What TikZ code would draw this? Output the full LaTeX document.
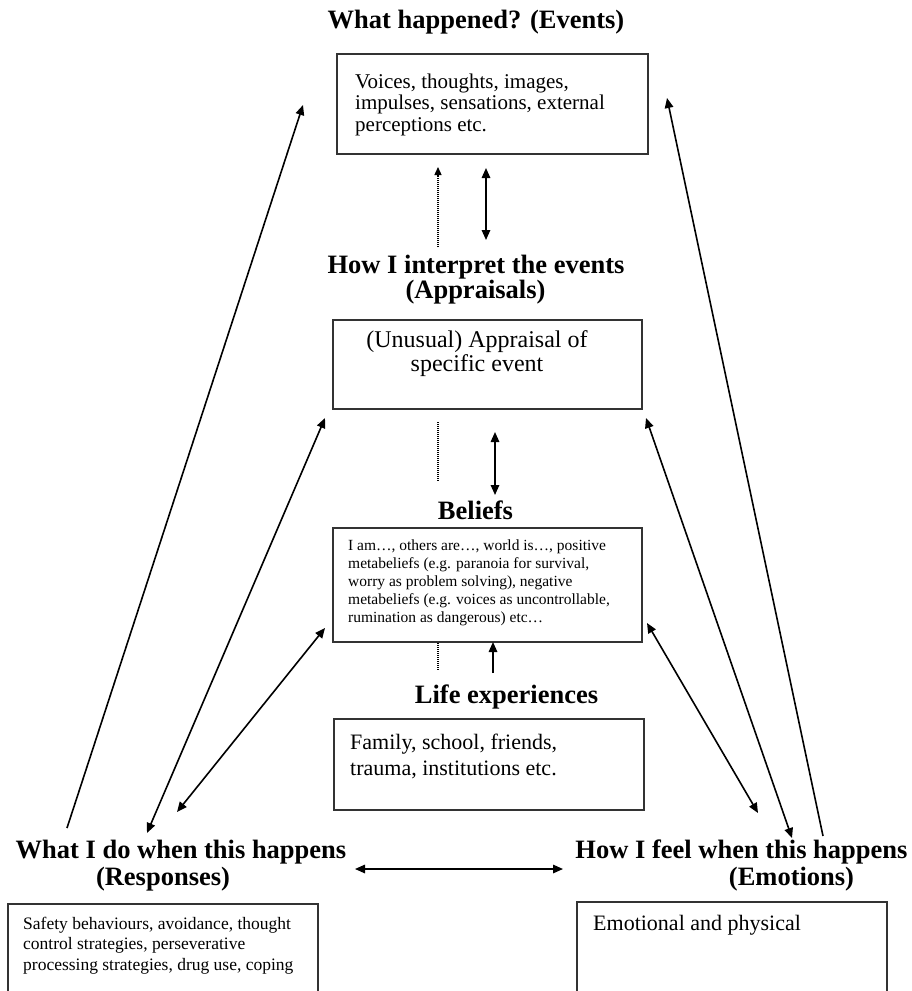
\documentclass[tikz,border=0pt]{standalone}
\usepackage{fontspec}
\setmainfont{Liberation Serif}
\usetikzlibrary{arrows.meta}

\tikzset{
  box/.style={draw=black!80,line width=1.5pt,inner sep=0pt,anchor=north west},
  head/.style={font=\fontsize{26.5}{24}\selectfont\bfseries,inner sep=0pt,anchor=base},
  txt/.style={inner sep=0pt,anchor=base west,align=left}, % base = last line
  arr/.style={line width=1.6pt,-{Triangle[length=10pt,width=8.5pt]}},
  darr/.style={line width=1.6pt,{Triangle[length=10pt,width=8.5pt]}-{Triangle[length=10pt,width=8.5pt]}},
  dots/.style={line width=1.3pt,dash pattern=on 1pt off 1pt},
}

\begin{document}
\begin{tikzpicture}[x=1pt,y=-1pt]
\useasboundingbox (0,0) rectangle (912,991);

% events
\node[head] (evtitle) at (476,28) {What happened? (Events)};
\node[box,minimum width=311pt,minimum height=100pt] (events) at (336,53) {};
\node[txt,font=\fontsize{21}{21.5}\selectfont] (evtext) at (355,131)
 {Voices, thoughts, images,\\impulses, sensations, external\\perceptions etc.};

% appraisals
\node[head] (apptitle) at (476,273.5) {How I interpret the events};
\node[head] (appsub) at (475.5,298.5) {(Appraisals)};
\node[box,minimum width=309pt,minimum height=89pt] (appraisal) at (332,319) {};
\node[inner sep=0pt,anchor=base,align=center,font=\fontsize{24}{24.5}\selectfont] (apptext) at (477,371.5)
 {(Unusual) Appraisal of\\specific event};

% beliefs
\node[head] (beltitle) at (475.5,519) {Beliefs};
\node[box,minimum width=309pt,minimum height=114pt] (beliefs) at (332,527) {};
\node[txt,font=\fontsize{15.5}{18}\selectfont] (beltext) at (348,622)
 {I am…, others are…, world is…, positive\\metabeliefs (e.g. paranoia for survival,\\worry as problem solving), negative\\metabeliefs (e.g. voices as uncontrollable,\\rumination as dangerous) etc…};

% life experiences
\node[head] (lifetitle) at (506.5,703) {Life experiences};
\node[box,minimum width=310pt,minimum height=91pt] (life) at (333,718) {};
\node[txt,font=\fontsize{22}{26}\selectfont] (lifetext) at (350,775)
 {Family, school, friends,\\trauma, institutions etc.};

% responses
\node[head] (resptitle) at (181,858) {What I do when this happens};
\node[head] (respsub) at (163,885) {(Responses)};
\node[box,minimum width=310pt,minimum height=92pt] (responses) at (7,903) {};
\node[txt,font=\fontsize{17.5}{20.5}\selectfont] (resptext) at (23,970)
 {Safety behaviours, avoidance, thought\\control strategies, perseverative\\processing strategies, drug use, coping};

% emotions
\node[head] (emotitle) at (741.5,858) {How I feel when this happens};
\node[head] (emosub) at (791.5,885) {(Emotions)};
\node[box,minimum width=310pt,minimum height=94pt] (emotions) at (576,901) {};
\node[txt,font=\fontsize{22}{26}\selectfont] (emotext) at (593,930) {Emotional and physical};

% arrow ends
\coordinate (rl) at (67,828);   \coordinate (el) at (303,105);
\coordinate (er) at (667,98);   \coordinate (fr) at (823,836);
\coordinate (ra) at (147,833);  \coordinate (al) at (325,418);
\coordinate (ar) at (646,418);  \coordinate (fa) at (792,838);
\coordinate (rb) at (177,812);  \coordinate (bl) at (325,628);
\coordinate (br) at (647,623);  \coordinate (fb) at (758,813);
\coordinate (rf) at (355,869);  \coordinate (fe) at (563,869);

\draw[arr] (rl) -- (el);
\draw[arr] (fr) -- (er);
\draw[darr] (ra) -- (al);
\draw[darr] (fa) -- (ar);
\draw[darr] (rb) -- (bl);
\draw[darr] (fb) -- (br);
\draw[darr] (rf) -- (fe);

% centre column
\coordinate (d1) at (438,247);  \coordinate (d1t) at (438,167);
\coordinate (s1) at (486,168);  \coordinate (s1b) at (486,240);
\coordinate (d2) at (438,422);  \coordinate (d2b) at (438,482);
\coordinate (s2) at (495,432);  \coordinate (s2b) at (495,495);
\coordinate (d3) at (438,643);  \coordinate (d3b) at (438,670);
\coordinate (s3) at (493,673);  \coordinate (s3t) at (493,642);

\draw[dots,-{Triangle[length=8pt,width=7pt]}] (d1) -- (d1t);
\draw[darr] (s1) -- (s1b);
\draw[dots] (d2) -- (d2b);
\draw[darr] (s2) -- (s2b);
\draw[dots] (d3) -- (d3b);
\draw[arr] (s3) -- (s3t);

\end{tikzpicture}
\end{document}
